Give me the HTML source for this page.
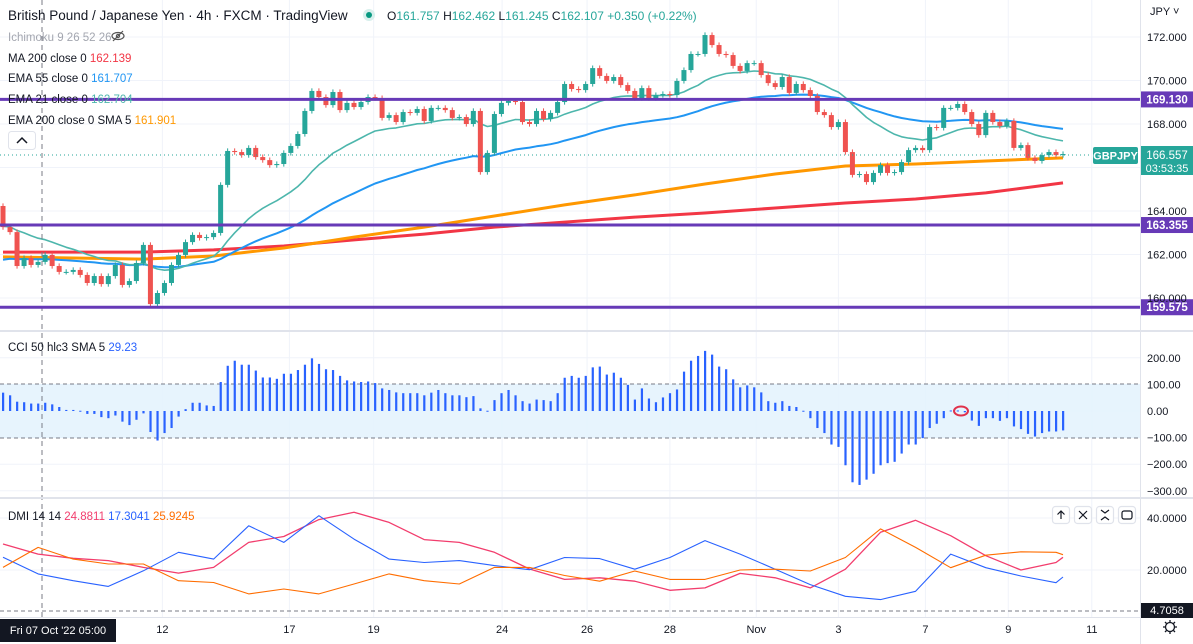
<!DOCTYPE html>
<html><head><meta charset="utf-8">
<style>
html,body{margin:0;padding:0;background:#fff;overflow:hidden}
svg{display:block;font-family:"Liberation Sans",sans-serif}
</style></head>
<body>
<svg id="chart" width="1193" height="644" viewBox="0 0 1193 644" xmlns="http://www.w3.org/2000/svg">
<rect x="0" y="0" width="1193" height="644" fill="#fff"/>
<g id="grid"></g>
<rect x="0" y="384" width="1140" height="54" fill="#e3f2fd" opacity="0.85"/>
<line x1="0" y1="384" x2="1140" y2="384" stroke="#787b86" stroke-dasharray="4,3"/>
<line x1="0" y1="438" x2="1140" y2="438" stroke="#787b86" stroke-dasharray="4,3"/>
<line x1="0" y1="611" x2="1140" y2="611" stroke="#787b86" stroke-dasharray="4,3"/>
<g id="ma"></g>
<g id="candles"></g>
<g id="cci"></g>
<g id="dmi"></g>
<line x1="42" y1="0" x2="42" y2="618" stroke="#787b86" stroke-dasharray="5,4"/>
<line x1="0" y1="155" x2="1090" y2="155" stroke="#26a69a" stroke-dasharray="1,3"/>
<g id="hlines"></g>
<line x1="0" y1="331" x2="1193" y2="331" stroke="#e0e3eb" stroke-width="2"/>
<line x1="0" y1="498" x2="1193" y2="498" stroke="#e0e3eb" stroke-width="2"/>
<line x1="0" y1="617.5" x2="1193" y2="617.5" stroke="#e0e3eb"/>
<line x1="1140.5" y1="0" x2="1140.5" y2="644" stroke="#e0e3eb"/>
<g id="axis" font-size="11" fill="#131722"></g>
<g id="taxis" font-size="11" fill="#131722"></g>
<g font-size="11.5">
<text x="8" y="20" fill="#131722" font-size="13.5">British Pound / Japanese Yen · 4h · FXCM · TradingView</text>
<circle cx="369" cy="15" r="6" fill="#d7efec"/>
<circle cx="369" cy="15" r="3" fill="#089981"/>
<text x="387" y="20" font-size="12" fill="#131722">O<tspan fill="#26a69a">161.757</tspan> H<tspan fill="#26a69a">162.462</tspan> L<tspan fill="#26a69a">161.245</tspan> C<tspan fill="#26a69a">162.107</tspan> <tspan fill="#26a69a">+0.350 (+0.22%)</tspan></text>
<text x="8" y="41" fill="#a3a6af">Ichimoku 9 26 52 26</text>
<g transform="translate(118,36)" stroke="#555" fill="none" stroke-width="1.2"><ellipse cx="0" cy="0" rx="6" ry="3.5"/><circle cx="0" cy="0" r="1.6"/><line x1="-5" y1="5" x2="5" y2="-5"/></g>
<text x="8" y="62" fill="#131722">MA 200 close 0 <tspan fill="#f23645">162.139</tspan></text>
<text x="8" y="82" fill="#131722">EMA 55 close 0 <tspan fill="#2196f3">161.707</tspan></text>
<text x="8" y="103" fill="#131722">EMA 21 close 0 <tspan fill="#4db6ac">162.704</tspan></text>
<text x="8" y="124" fill="#131722">EMA 200 close 0 SMA 5 <tspan fill="#ff9800">161.901</tspan></text>
<rect x="8.5" y="131.5" width="27" height="18" rx="3" fill="#fff" stroke="#e0e3eb"/>
<path d="M17 143 L22 138 L27 143" stroke="#131722" fill="none" stroke-width="1.5"/>
<text x="8" y="351" fill="#131722">CCI 50 hlc3 SMA 5 <tspan fill="#2962ff">29.23</tspan></text>
<text x="8" y="520" fill="#131722">DMI 14 14 <tspan fill="#f23d6d">24.8811</tspan> <tspan fill="#2962ff">17.3041</tspan> <tspan fill="#ff6d00">25.9245</tspan></text>
</g>
<g stroke="#131722" fill="none" stroke-width="1.2">
<rect x="1052.5" y="506.5" width="17" height="17" rx="3" fill="#fff" stroke="#e0e3eb"/>
<path d="M1061 519 V511 M1057.5 514.5 L1061 511 L1064.5 514.5"/>
<rect x="1074.5" y="506.5" width="17" height="17" rx="3" fill="#fff" stroke="#e0e3eb"/>
<path d="M1079 511 L1087 519 M1087 511 L1079 519"/>
<rect x="1096.5" y="506.5" width="17" height="17" rx="3" fill="#fff" stroke="#e0e3eb"/>
<path d="M1101 510 L1105 513 L1109 510 M1101 520 L1105 517 L1109 520"/>
<rect x="1118.5" y="506.5" width="17" height="17" rx="3" fill="#fff" stroke="#e0e3eb"/>
<rect x="1122" y="511" width="10" height="8" rx="2"/>
</g>
<ellipse cx="961" cy="411" rx="7" ry="4.5" fill="none" stroke="#e0314b" stroke-width="2"/>
<text x="1150" y="15" font-size="11" fill="#131722">JPY ˅</text>
<rect x="1093" y="147" width="45" height="17" rx="2" fill="#26a69a"/>
<text x="1115.5" y="159.5" font-size="11" font-weight="bold" fill="#fff" text-anchor="middle">GBPJPY</text>
<rect x="1141" y="146" width="52" height="29" fill="#26a69a"/>
<text x="1167" y="159" font-size="11.5" fill="#fff" text-anchor="middle">166.557</text>
<text x="1167" y="172" font-size="11" fill="#fff" text-anchor="middle">03:53:35</text>
<rect x="1141" y="603" width="52" height="15" fill="#131722"/>
<text x="1167" y="614" font-size="11" fill="#fff" text-anchor="middle">4.7058</text>
<rect x="0" y="619" width="116" height="23" fill="#131722"/>
<text x="58" y="634" font-size="11" fill="#fff" text-anchor="middle">Fri 07 Oct '22  05:00</text>
<g transform="translate(1170,627)" stroke="#131722" fill="none" stroke-width="1.3"><circle r="4.5"/><path d="M0 -7 V-5 M0 5 V7 M-7 0 H-5 M5 0 H7 M-5 -5 L-3.5 -3.5 M3.5 3.5 L5 5 M-5 5 L-3.5 3.5 M3.5 -3.5 L5 -5"/></g>
</svg>
<script>
const closes=[163.26,163.03,161.47,161.84,161.52,161.66,161.98,161.47,161.20,161.20,161.29,161.06,160.69,161.01,160.64,161.01,161.52,160.60,160.78,161.61,162.44,159.72,160.23,160.69,161.52,161.98,162.57,162.90,162.76,162.80,162.99,165.20,166.76,166.71,166.57,166.90,166.48,166.34,166.11,166.16,166.67,166.99,167.54,168.60,169.52,169.24,168.87,169.47,168.64,168.97,168.78,169.01,169.24,169.19,168.28,168.41,168.09,168.55,168.51,168.69,168.14,168.74,168.74,168.64,168.28,168.32,168.00,168.60,165.79,166.67,168.46,168.97,169.06,169.01,168.09,168.00,168.60,168.23,168.51,169.01,169.84,169.61,169.56,169.84,170.57,170.21,169.98,170.16,169.79,169.52,169.19,169.65,169.19,169.33,169.38,169.33,169.98,170.48,171.22,171.22,172.09,171.63,171.22,171.17,170.67,170.44,170.80,170.80,170.25,169.88,169.70,170.16,169.43,169.84,169.56,169.29,168.55,168.41,167.86,168.09,166.71,165.66,165.70,165.33,165.75,166.11,165.75,165.79,166.25,166.80,166.90,166.80,167.86,167.82,168.74,168.74,168.92,168.55,168.00,167.49,168.51,168.09,167.91,168.14,166.90,167.03,166.44,166.30,166.57,166.71,166.57,166.62];
const firstOpen=164.23;
const ema21Seed=163.3;
const ema55Seed=161.7;
const maBars=[0,10,20,30,40,50,60,70,80,90,100,110,120,130,140,151];
const ema200Sma=[161.89,161.84,161.79,161.93,162.30,162.80,163.26,163.77,164.28,164.74,165.24,165.70,166.07,166.16,166.30,166.44];
const ma200=[162.11,162.11,162.11,162.21,162.39,162.67,162.94,163.26,163.49,163.72,163.91,164.14,164.37,164.55,164.83,165.29];
const cciValues=[69,59,35,33,28,28,31,25,15,4,4,1,-11,-11,-23,-27,-17,-40,-53,-33,-9,-79,-111,-83,-64,-21,7,31,31,21,19,109,170,189,174,174,152,126,126,121,140,140,154,174,198,177,157,154,132,115,111,109,111,105,85,79,70,67,67,67,59,69,79,67,59,59,52,56,10,1,41,67,79,59,37,28,43,41,37,67,125,132,125,132,164,167,137,144,125,98,43,85,47,33,51,67,81,148,189,207,226,212,167,157,119,89,96,89,70,37,31,37,19,15,1,-27,-64,-83,-126,-135,-204,-268,-278,-258,-236,-204,-196,-191,-160,-126,-126,-102,-64,-48,-27,2,2,-5,-36,-56,-27,-27,-37,-27,-58,-68,-86,-96,-83,-77,-77,-73];
const dmiBars=[0,5,10,15,20,25,30,35,40,45,50,55,60,65,70,75,80,85,90,95,100,105,110,115,120,125,130,135,140,145,150,151];
const diPlusRed=[30.0,26.1,24.5,23.6,21.0,18.8,21.0,30.6,32.9,39.4,42.2,38.3,31.7,30.6,26.8,20.4,16.4,17.0,15.7,12.2,13.1,18.7,17.0,13.1,20.3,34.5,39.1,33.2,25.5,20.0,22.9,24.9];
const diBlue=[24.9,18.5,15.9,13.7,19.7,26.8,24.2,37.0,30.6,40.9,31.9,24.2,22.9,23.6,21.7,20.1,24.8,24.4,20.3,24.8,31.3,26.1,20.3,14.4,9.9,8.6,11.8,26.1,20.9,17.7,15.1,17.3];
const diOrange=[21.0,28.7,24.2,22.3,22.3,15.9,15.2,10.8,12.7,10.8,14.6,18.5,15.9,14.6,21.0,21.0,17.9,15.7,19.6,16.4,16.4,20.0,20.3,19.6,24.8,35.8,28.7,20.9,25.7,27.0,26.8,25.9];
const priceTicks=[172,170,168,164,162,160];
const cciTicks=[200,100,0,-100,-200,-300];
const dmiTicks=[40,20];
const levels=[169.130,163.355,159.575];
const timeLabels=["12","17","19","24","26","28","Nov","3","7","9","11"];
const timeLabelBars=[22.7,40.8,52.8,71.1,83.2,95.0,107.3,119.0,131.4,143.2,155.1];

const NS="http://www.w3.org/2000/svg";
const xB=i=>3+i*7.02;
const yP=p=>37+(172-p)*21.75;
const yC=v=>411-v*0.266;
const yD=v=>570-(v-20)*2.6;
function mk(tag,attrs,parent){const e=document.createElementNS(NS,tag);for(const k in attrs)e.setAttribute(k,attrs[k]);parent.appendChild(e);return e;}
const G=id=>document.getElementById(id);

const grid=G('grid');
timeLabelBars.forEach(b=>{const l=mk('line',{x1:xB(b),x2:xB(b),y1:0,y2:618,stroke:'#f0f3fa'},grid);

});
[...priceTicks,166].forEach(p=>{const l=mk('line',{x1:0,x2:1140,y1:yP(p),y2:yP(p),stroke:'#f0f3fa'},grid);

});
cciTicks.forEach(v=>{const l=mk('line',{x1:0,x2:1140,y1:yC(v),y2:yC(v),stroke:'#f0f3fa'},grid);

});
dmiTicks.forEach(v=>{const l=mk('line',{x1:0,x2:1140,y1:yD(v),y2:yD(v),stroke:'#f0f3fa'},grid);

});

const ma=G('ma');
function poly(xs,ys,color,w,name,parent){const pts=xs.map((x,i)=>x.toFixed(1)+','+ys[i].toFixed(1)).join(' ');
const e=mk('polyline',{points:pts,fill:'none',stroke:color,'stroke-width':w,'stroke-linejoin':'round'},parent);

return e;}
poly(maBars.map(xB),ma200.map(yP),'#f23645',3,'ma200-line',ma);
poly(maBars.map(xB),ema200Sma.map(yP),'#ff9800',3,'ema200-sma-line',ma);
function ema(seed,n){const k=2/(n+1);let v=seed;return closes.map(c=>(v=v+k*(c-v)));}
const e55=ema(ema55Seed,55),e21=ema(ema21Seed,21);
poly(closes.map((c,i)=>xB(i)),e55.map(yP),'#2196f3',2,'ema55-line',ma);
poly(closes.map((c,i)=>xB(i)),e21.map(yP),'#4db6ac',1.6,'ema21-line',ma);

const cg=G('candles');
closes.forEach((c,i)=>{const o=i?closes[i-1]:firstOpen;const up=c>=o;const col=up?'#26a69a':'#ef5350';
const x=xB(i);const hi=Math.max(o,c)+0.12,lo=Math.min(o,c)-0.12;
const w=mk('line',{x1:x,x2:x,y1:yP(hi),y2:yP(lo),stroke:col,'stroke-width':1},cg);


const t=yP(Math.max(o,c)),b=yP(Math.min(o,c));
const r=mk('rect',{x:x-2.5,y:t,width:5,height:Math.max(1,b-t),fill:col},cg);

});

const cc=G('cci');
cciValues.forEach((v,i)=>{const y0=yC(0),y1=yC(v);
const r=mk('rect',{x:xB(i)-1,y:Math.min(y0,y1),width:2.2,height:Math.max(1,Math.abs(y1-y0)),fill:'#2962ff'},cc);

});

const dg=G('dmi');
poly(dmiBars.map(xB),diPlusRed.map(yD),'#f23d6d',1.3,'dmi-red-line',dg);
poly(dmiBars.map(xB),diBlue.map(yD),'#2962ff',1.1,'dmi-blue-line',dg);
poly(dmiBars.map(xB),diOrange.map(yD),'#ff6d00',1.1,'dmi-orange-line',dg);

const hl=G('hlines');
levels.forEach(p=>{const l=mk('line',{x1:0,x2:1141,y1:yP(p),y2:yP(p),stroke:'#673ab7','stroke-width':3},hl);


const r=mk('rect',{x:1141,y:yP(p)-8,width:52,height:16,fill:'#673ab7'},hl);


const t=mk('text',{x:1167,y:yP(p)+4,'font-size':11.5,fill:'#fff','text-anchor':'middle','font-weight':'bold'},hl);
t.textContent=p.toFixed(3);

});

const ax=G('axis');
priceTicks.forEach(p=>{const t=mk('text',{x:1147,y:yP(p)+4},ax);t.textContent=p.toFixed(3);

});
cciTicks.forEach(v=>{const t=mk('text',{x:1147,y:yC(v)+4},ax);t.textContent=(v<0?'−':'')+Math.abs(v).toFixed(2);

});
dmiTicks.forEach(v=>{const t=mk('text',{x:1147,y:yD(v)+4},ax);t.textContent=v.toFixed(4);

});
const ta=G('taxis');
timeLabels.forEach((s,i)=>{const t=mk('text',{x:xB(timeLabelBars[i]),y:633,'text-anchor':'middle'},ta);t.textContent=s;

});
</script>
</body></html>
